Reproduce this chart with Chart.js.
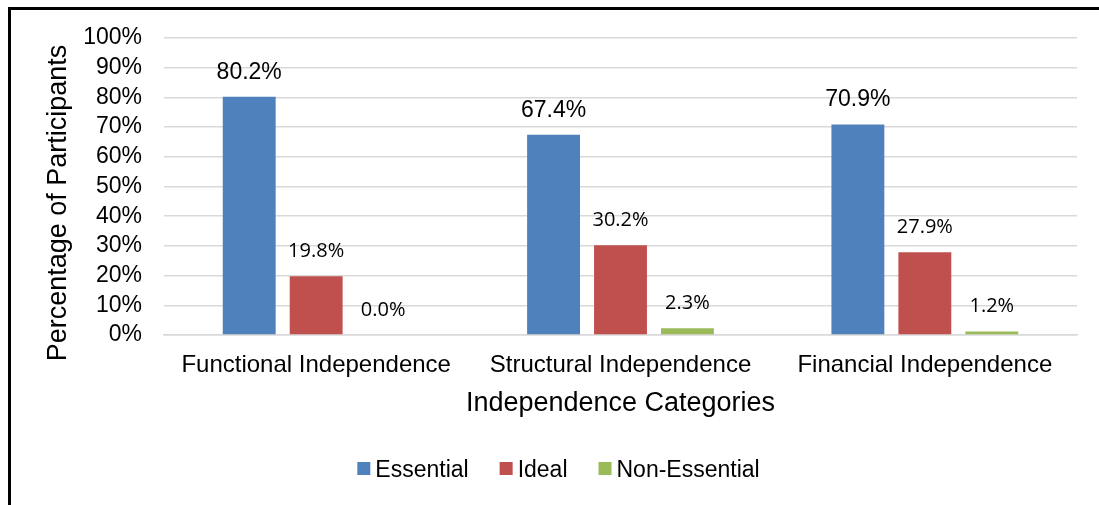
<!DOCTYPE html>
<html>
<head>
<meta charset="utf-8">
<script src="https://cdn.jsdelivr.net/npm/chart.js@4/dist/chart.umd.min.js"></script>
<style>
  html,body{margin:0;padding:0;background:#fff;}
  #wrap{position:relative;width:1099px;height:505px;}
  #frame{position:absolute;left:8px;top:7px;right:-10px;bottom:-10px;border-left:3px solid #000;border-top:3px solid #000;pointer-events:none;}
</style>
</head>
<body>
<div id="wrap">
  <canvas id="chart" width="1099" height="505"></canvas>
  <div id="frame"></div>
</div>
<script>
const categories = ['Functional Independence','Structural Independence','Financial Independence'];
const essential = [80.2, 67.4, 70.9];
const ideal = [19.8, 30.2, 27.9];
const nonEssential = [0.0, 2.3, 1.2];
const seriesNames = ['Essential','Ideal','Non-Essential'];
const seriesColors = ['#4F81BD','#C0504D','#9BBB59'];
const ARIAL = '"Liberation Sans", Arial, sans-serif';

// value labels above bars (first series in Arial, the rest in a Calibri-like face)
const barLabels = {
  id:'barLabels',
  afterDatasetsDraw(chart){
    const c = chart.ctx;
    c.save();
    c.fillStyle = '#000';
    c.textAlign = 'center';
    c.textBaseline = 'alphabetic';
    chart.data.datasets.forEach((ds,i)=>{
      c.font = i===0 ? '23px '+ARIAL : '20px "Open Sans"';
      const off = i===0 ? 18 : 19;
      chart.getDatasetMeta(i).data.forEach((el,j)=>{
        c.fillText(ds.data[j].toFixed(1)+'%', el.x, el.y - off);
      });
    });
    c.restore();
  }
};

// y title + legend drawn by hand so the spacing matches
const extras = {
  id:'extras',
  afterDraw(chart){
    const c = chart.ctx;
    c.save();
    c.fillStyle = '#000';
    c.font = '27px '+ARIAL;
    c.translate(66, 203);
    c.rotate(-Math.PI/2);
    c.textAlign = 'center';
    c.textBaseline = 'alphabetic';
    c.fillText('Percentage of Participants', 0, 0);
    c.restore();

    c.save();
    c.font = '23px '+ARIAL;
    c.textBaseline = 'alphabetic';
    const gap = 5, between = 31;
    const widths = seriesNames.map(n=>13+gap+c.measureText(n).width);
    const total = widths.reduce((s,w)=>s+w,0) + between*(seriesNames.length-1);
    let x = 558.5 - total/2;
    seriesNames.forEach((n,i)=>{
      c.fillStyle = seriesColors[i];
      c.fillRect(x, 462, 13, 13);
      c.fillStyle = '#000';
      c.fillText(n, x+13+gap, 477);
      x += widths[i] + between;
    });
    c.restore();
  }
};

const ctx = document.getElementById('chart');
new Chart(ctx,{
  type:'bar',
  data:{
    labels: categories,
    datasets:[essential, ideal, nonEssential].map((d,i)=>({
      label: seriesNames[i], data: d, backgroundColor: seriesColors[i],
      barPercentage:0.79, categoryPercentage:0.66
    }))
  },
  options:{
    responsive:false, animation:false,
    layout:{padding:{left:0,right:22,top:38,bottom:60}},
    plugins:{
      legend:{display:false},
      tooltip:{enabled:false}
    },
    scales:{
      x:{
        grid:{display:false,drawTicks:false},
        border:{display:true,color:'#d9d9d9',width:1.5},
        ticks:{color:'#000',font:{family:ARIAL,size:24},padding:16,maxRotation:0},
        title:{display:true,text:'Independence Categories',color:'#000',font:{family:ARIAL,size:27},padding:{top:4,bottom:25}},
        afterFit:s=>{s.height=110;}
      },
      y:{
        min:0,max:100,
        ticks:{stepSize:10,autoSkip:false,color:'#000',font:{family:ARIAL,size:23},padding:22,callback:v=>v+'%'},
        grid:{color:'#d9d9d9',lineWidth:1.5,drawTicks:false},
        border:{display:false},
        afterFit:s=>{s.width=164;}
      }
    }
  },
  plugins:[barLabels, extras]
});
</script>
</body>
</html>
